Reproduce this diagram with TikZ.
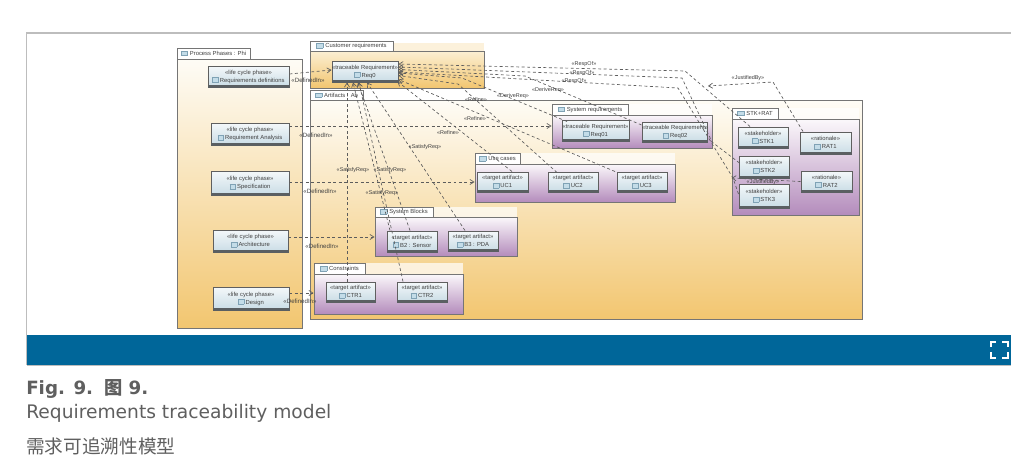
\documentclass[tikz,border=0pt]{standalone}
\usepackage{fontspec}
\setmainfont{DejaVu Sans}
\newfontfamily\diag{Liberation Sans}
\newfontfamily\cjk{Noto Sans CJK SC}
\usetikzlibrary{arrows.meta,calc}
\definecolor{edge}{HTML}{757575}
\definecolor{darkedge}{HTML}{5F5F5F}
\definecolor{strip}{HTML}{5A5F62}
\definecolor{txt}{HTML}{404040}
\definecolor{dashc}{HTML}{5C5C5C}
\definecolor{bluebar}{HTML}{006699}
\definecolor{framec}{HTML}{BDBDBD}
\definecolor{capc}{HTML}{5F5F5F}
\definecolor{ora1}{HTML}{FEFCF6}
\definecolor{ora2}{HTML}{F9E4B6}
\definecolor{ora3}{HTML}{F2C670}
\definecolor{pur1}{HTML}{FBF8FB}
\definecolor{pur2}{HTML}{DCC8DF}
\definecolor{pur3}{HTML}{B48CBC}
\definecolor{nod1}{HTML}{F4F8FA}
\definecolor{nod2}{HTML}{C9DCE5}
\definecolor{iconf}{HTML}{C3DCE8}
\definecolor{icone}{HTML}{7FA2B5}
\tikzset{
  orangepkg/.style={top color=ora1,middle color=ora2,bottom color=ora3},
  custpkg/.style={top color=ora2!60!white,bottom color=ora3},
  purplepkg/.style={top color=pur1,middle color=pur2,bottom color=pur3},
  pkgbody/.style={draw=edge,line width=0.75pt,inner sep=0pt,rectangle},
  pkgtab/.style={draw=edge,line width=0.75pt,fill=white,inner sep=0pt,rectangle,text=txt,font=\diag\fontsize{4.4}{5}\selectfont},
  artifact/.style={draw=darkedge,line width=0.75pt,top color=nod1,bottom color=nod2,inner sep=0pt,rectangle,align=center,text=txt,
    font=\diag\fontsize{4.4}{5.6}\selectfont},
  trace/.style={draw=dashc,line width=0.5pt,dash pattern=on 2.2pt off 1.9pt},
  tracetip/.style={trace,-{Straight Barb[length=3pt,width=3.8pt]}},
  lbl/.style={text=txt,inner sep=0pt,font=\diag\fontsize{4.6}{5}\selectfont},
  lblsmall/.style={text=txt,inner sep=0pt,font=\diag\fontsize{4.1}{5}\selectfont}
}
\setlength{\fboxsep}{0pt}
\setlength{\fboxrule}{0.3pt}
\newcommand{\glyphbox}{\fcolorbox{icone}{iconf}{\rule{4pt}{0pt}\rule{0pt}{3.4pt}}}
\newcommand{\foldericon}{\fcolorbox{icone}{iconf}{\rule{4.6pt}{0pt}\rule{0pt}{3pt}}\hspace{1.6pt}}
% name x1 y1 x2 y2 stereotype label
\newcommand{\umlnode}[7]{%
  \node[artifact,minimum width={(#4-#2)*0.75pt},minimum height={(#5-#3)*0.75pt}] (#1) at ({(#2+#4)/2},{(#3+#5)/2}) {\raisebox{1pt}{«#6»}\\[-0.6pt]\glyphbox\hspace{1pt}#7};
  \fill[strip] ($(#1.south west)+(0,-2.6)$) rectangle (#1.south east);
}
% name x1 ytab xtab ybody x2 y2 style label
\newcommand{\umlpkg}[9]{%
  \node[pkgbody,#8,minimum width={(#6-#2)*0.75pt},minimum height={(#7-#5)*0.75pt}] (#1) at ({(#2+#6)/2},{(#5+#7)/2}) {};
  \node[pkgtab,minimum width={(#4-#2)*0.75pt},minimum height={(#5-#3)*0.75pt}] (#1tab) at ({(#2+#4)/2},{(#3+#5)/2}) {\foldericon #9};
}
\begin{document}
\begin{tikzpicture}[x=0.75pt,y=-0.75pt]
\useasboundingbox (0,0) rectangle (1011,464);
% frame and bar
\fill[white] (0,0) rectangle (1011,464);
\draw[framec,line width=0.8pt] (1011,33) -- (26.5,33) -- (26.5,365);
\fill[bluebar] (27,335) rectangle (1011,365);
\draw[framec,line width=0.6pt] (27,365) -- (1011,365);
\draw[white,line width=1.5pt] (990.5,347) -- (990.5,341.5) -- (996,341.5);
\draw[white,line width=1.5pt] (1002,341.5) -- (1007.5,341.5) -- (1007.5,347);
\draw[white,line width=1.5pt] (990.5,352) -- (990.5,357.5) -- (996,357.5);
\draw[white,line width=1.5pt] (1002,357.5) -- (1007.5,357.5) -- (1007.5,352);
% caption
\node[anchor=base west,inner sep=0pt,text=capc,font=\fontsize{13.7}{16}\selectfont\bfseries] (figno) at (26,394) {Fig. 9.\hspace{0.6em}{\cjk 图} 9.};
\node[anchor=base west,inner sep=0pt,text=capc,font=\fontsize{14}{16}\selectfont] (capen) at (26,418) {Requirements traceability model};
\node[anchor=base west,inner sep=0pt,text=capc,font=\cjk\fontsize{14}{16}\selectfont] (capzh) at (26,453) {需求可追溯性模型};
% pale band beside the customer tab
\fill[ora2!50!white] (310,43) rectangle (484,51);
% packages
\umlpkg{phases}{177}{48}{250}{59}{302}{328}{orangepkg}{Process Phases : Phi}
\umlpkg{cust}{310}{41}{393}{51}{484}{88}{custpkg}{Customer requirements}
\umlpkg{arts}{310}{90}{363}{100}{862}{319}{orangepkg}{Artifacts : Ab}
\fill[white,opacity=0.7] (552,104) rectangle (712,115);
\fill[white,opacity=0.7] (732,108) rectangle (859,119);
\fill[white,opacity=0.7] (475,153) rectangle (675,164);
\fill[white,opacity=0.7] (375,207) rectangle (517,217);
\fill[white,opacity=0.7] (314,263) rectangle (463,274);
\umlpkg{sysreq}{552}{104}{628}{115}{712}{148}{purplepkg}{System requirements}
\umlpkg{stkrat}{732}{108}{778}{119}{859}{215}{purplepkg}{STK+RAT}
\umlpkg{usecases}{475}{153}{520}{164}{675}{202}{purplepkg}{Use cases}
\umlpkg{sysblocks}{375}{207}{433}{217}{517}{256}{purplepkg}{System Blocks}
\umlpkg{constr}{314}{263}{365}{274}{463}{314}{purplepkg}{Constraints}
% phases
\umlnode{rd}{208}{66}{289}{87}{life cycle phase}{Requirements definitions}
\umlnode{ra}{211}{123}{289}{145}{life cycle phase}{Requirement Analysis}
\umlnode{spec}{211}{171}{289}{195}{life cycle phase}{Specification}
\umlnode{arch}{213}{230}{288}{252}{life cycle phase}{Architecture}
\umlnode{des}{213}{287}{289}{310}{life cycle phase}{Design}
% artifacts
\umlnode{req0}{332}{61}{398}{82}{traceable Requirement}{Req0}
\umlnode{req1}{562}{120}{629}{141}{traceable Requirement}{Req01}
\umlnode{req2}{644}{122}{706}{142}{traceable Requirement}{Req02}
\umlnode{uc1}{477}{172}{528}{192}{target artifact}{UC1}
\umlnode{uc2}{548}{172}{598}{192}{target artifact}{UC2}
\umlnode{uc3}{617}{172}{667}{192}{target artifact}{UC3}
\umlnode{b2}{387}{231}{437}{252}{target artifact}{B2 : Sensor}
\umlnode{b3}{448}{231}{498}{251}{target artifact}{B3 : PDA}
\umlnode{ctr1}{326}{282}{375}{302}{target artifact}{CTR1}
\umlnode{ctr2}{397}{282}{447}{302}{target artifact}{CTR2}
\umlnode{stk1}{738}{127}{788}{148}{stakeholder}{STK1}
\umlnode{stk2}{739}{156}{789}{178}{stakeholder}{STK2}
\umlnode{stk3}{739}{184}{789}{208}{stakeholder}{STK3}
\umlnode{rat1}{800}{132}{851}{154}{rationale}{RAT1}
\umlnode{rat2}{801}{171}{852}{192}{rationale}{RAT2}
% DefinedIn
\draw[tracetip] ($(rd.east)+(0,-2.5)$) -- ($(req0.west)+(0,-1.5)$);
\draw[tracetip] ($(ra.east)+(0,-8)$) -- ($(sysreq.west)+(0,-5.5)$);
\draw[tracetip] ($(spec.east)+(0,-1)$) -- ($(usecases.west)+(0,-1)$);
\draw[tracetip] ($(arch.east)+(0,-4)$) -- ($(sysblocks.west)+(0,0.5)$);
\draw[tracetip] ($(des.east)+(0,-5.5)$) -- ($(constr.west)+(0,-1)$);
\node[lbl] (dl1) at (308,80) {«DefinedIn»};
\node[lbl] (dl2) at (316,135) {«DefinedIn»};
\node[lbl] (dl3) at (320,191) {«DefinedIn»};
\node[lbl] (dl4) at (322,246) {«DefinedIn»};
\node[lbl] (dl5) at (300,301) {«DefinedIn»};
% RespOf
\coordinate (r1) at (685,71);
\coordinate (r2) at (682,78);
\coordinate (r3) at (678,88);
\draw[tracetip] ($(stk1.north)+(-13,0)$) -- (r1) -- ($(req0.east)+(0,-7.5)$);
\draw[tracetip] ($(stk2.west)+(1,-4)$) -- (712,142) -- (r2) -- ($(req0.east)+(0,-4.5)$);
\draw[tracetip] ($(stk3.west)+(0,-2)$) -- (733,178) -- (r3) -- ($(req0.east)+(0,0.5)$);
\node[lblsmall] (ro1) at (584,64) {«RespOf»};
\node[lblsmall] (ro2) at (582,73) {«RespOf»};
\node[lblsmall] (ro3) at (574,81) {«RespOf»};
% JustifiedBy
\coordinate (j1) at (773,82);
\draw[tracetip] ($(rat1.north)+(-22.5,0)$) -- (j1) -- (708,86);
\draw[tracetip] (rat2.west) -- ($(stkrat.west)+(0,11)$);
\node[lblsmall] (jl1) at (748,78) {«JustifiedBy»};
\node[lblsmall] (jl2) at (763,182) {«JustifiedBy»};
% DeriveReq
\coordinate (dv1) at (462,78);
\coordinate (dv2) at (525,76);
\draw[tracetip] ($(req1.north)+(-28.5,2)$) -- (dv1) -- ($(req0.east)+(0,1.5)$);
\draw[tracetip] ($(req2.west)+(0,-7)$) -- (dv2) -- ($(req0.east)+(0,-2)$);
\node[lblsmall] (dr1) at (513,96) {«DeriveReq»};
\node[lblsmall] (dr2) at (548,90) {«DeriveReq»};
% Refine
\coordinate (rf1) at (458,84);
\draw[tracetip] ($(uc2.north)+(-16,1)$) -- (rf1) -- ($(req0.east)+(0,4)$);
\draw[tracetip] ($(uc3.north)+(-27,0)$) -- ($(req0.east)+(0,8)$);
\draw[tracetip] ($(uc1.north)+(9.5,0)$) -- ($(req0.east)+(-1,10)$);
\node[lblsmall] (rl1) at (476,100) {«Refine»};
\node[lblsmall] (rl2) at (475,119) {«Refine»};
\node[lblsmall] (rl3) at (448,133) {«Refine»};
% SatisfyReq
\draw[tracetip] ($(ctr1.north)+(-3.5,0)$) -- ($(req0.south)+(-18,0)$);
\draw[tracetip] ($(b2.north)+(-22,0)$) -- ($(req0.south)+(-12,0)$);
\draw[tracetip] ($(b2.north)+(-2,0)$) -- ($(req0.south)+(-7,0)$);
\draw[tracetip] ($(ctr2.north)+(-19,0)$) -- ($(req0.south)+(-6,0)$);
\draw[tracetip] ($(b3.north)+(-8,0)$) -- ($(req0.south)+(2,0)$);
\node[lblsmall] (sl1) at (425,147) {«SatisfyReq»};
\node[lblsmall] (sl2) at (353,170) {«SatisfyReq»};
\node[lblsmall] (sl3) at (390,170) {«SatisfyReq»};
\node[lblsmall] (sl4) at (382,193) {«SatisfyReq»};
\end{tikzpicture}
\end{document}
